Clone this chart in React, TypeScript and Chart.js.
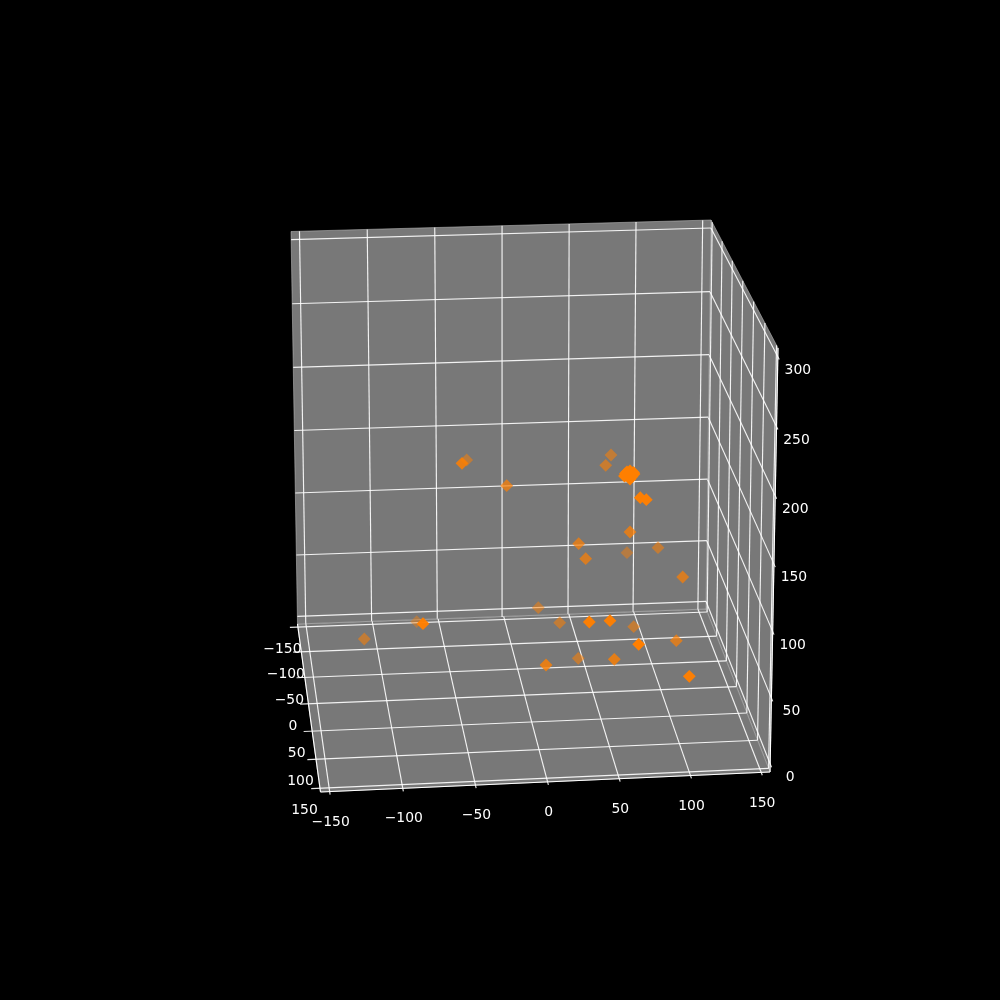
import React, { useEffect, useRef } from 'react';
import { Chart, registerables } from 'chart.js';

Chart.register(...registerables);

// tick values of the three axes
const xTicks = [-150, -100, -50, 0, 50, 100, 150];
const yTicks = [-150, -100, -50, 0, 50, 100, 150];
const zTicks = [0, 50, 100, 150, 200, 250, 300];

// markers as they land on the picture plane, with their depth shade
const markerX = [
  364.3, 416.7, 423, 538.3, 559.7, 589.3, 610, 633.7, 638.7, 676.3, 689.3, 546, 578.3, 614.3,
  611, 605.7, 640.3, 646.3, 630, 578.7, 585.7, 627, 658, 682.7, 462, 466.7, 506.7,
  624.5, 627, 630, 633.5, 626, 630, 632, 628, 625.5, 634,
];
const markerY = [
  639, 621.7, 623.7, 607.7, 622.7, 622, 620.7, 626.7, 644.3, 640.7, 676.3, 665, 658.3, 659.3,
  455, 465.3, 497.7, 499.7, 532, 543.7, 558.7, 552.7, 547.7, 577, 463.3, 460, 485.7,
  476, 472, 471, 472.5, 475, 479, 476.5, 474, 473.5, 474,
];
const markerShade = [
  0.55, 0.4, 0.97, 0.5, 0.55, 0.97, 0.97, 0.55, 1, 0.7, 0.97, 0.8, 0.55, 0.8,
  0.55, 0.6, 0.97, 0.97, 0.75, 0.7, 0.7, 0.45, 0.55, 0.7, 0.85, 0.5, 0.7,
  1, 1, 1, 1, 1, 1, 1, 1, 1, 1,
];

// axis limits, 1/48 of the span wider than the ticks on each side
const XY_LIM = 156.25;
const Z_MIN = -6.25;
const Z_MAX = 306.25;

type Pt = [number, number];

// corners of the panes on the picture plane
const BACK_BOTTOM_LEFT: Pt = [297.5, 624];
const BACK_BOTTOM_RIGHT: Pt = [706, 609];
const BACK_TOP_RIGHT: Pt = [711, 220];
const BACK_TOP_LEFT: Pt = [291, 231.5];
const FRONT_BOTTOM_LEFT: Pt = [320.5, 792];
const FRONT_BOTTOM_RIGHT: Pt = [770, 772];
const FRONT_TOP_RIGHT: Pt = [778, 348];

// maps the unit square on a four cornered pane
const makeFace = (p0: Pt, p1: Pt, p2: Pt, p3: Pt) => {
  const dx1 = p1[0] - p2[0];
  const dx2 = p3[0] - p2[0];
  const sx = p0[0] - p1[0] + p2[0] - p3[0];
  const dy1 = p1[1] - p2[1];
  const dy2 = p3[1] - p2[1];
  const sy = p0[1] - p1[1] + p2[1] - p3[1];
  const den = dx1 * dy2 - dx2 * dy1;
  const g = (sx * dy2 - dx2 * sy) / den;
  const h = (dx1 * sy - sx * dy1) / den;
  return (u: number, v: number) => {
    const w = g * u + h * v + 1;
    return {
      x: ((p1[0] - p0[0] + g * p1[0]) * u + (p3[0] - p0[0] + h * p3[0]) * v + p0[0]) / w,
      y: ((p1[1] - p0[1] + g * p1[1]) * u + (p3[1] - p0[1] + h * p3[1]) * v + p0[1]) / w,
    };
  };
};

const backMap = makeFace(BACK_BOTTOM_LEFT, BACK_BOTTOM_RIGHT, BACK_TOP_RIGHT, BACK_TOP_LEFT);
const floorMap = makeFace(BACK_BOTTOM_LEFT, BACK_BOTTOM_RIGHT, FRONT_BOTTOM_RIGHT, FRONT_BOTTOM_LEFT);
const rightMap = makeFace(BACK_BOTTOM_RIGHT, FRONT_BOTTOM_RIGHT, FRONT_TOP_RIGHT, BACK_TOP_RIGHT);

const uXY = (v: number) => (v + XY_LIM) / (2 * XY_LIM);
const uZ = (v: number) => (v - Z_MIN) / (Z_MAX - Z_MIN);

const onBack = (x: number, z: number) => backMap(uXY(x), uZ(z));
const onFloor = (x: number, y: number) => floorMap(uXY(x), uXY(y));
const onRight = (y: number, z: number) => rightMap(uXY(y), uZ(z));

const GRID = 'rgba(255,255,255,0.9)';

const segment = (a: { x: number; y: number }, b: { x: number; y: number }, color = GRID, width = 1.15) => ({
  data: [a, b],
  showLine: true,
  borderColor: color,
  borderWidth: width,
  pointRadius: 0,
});

const pane = (corners: Pt[]) => ({
  data: [...corners, corners[0]].map(([x, y]) => ({ x, y })),
  showLine: true,
  fill: 'shape',
  backgroundColor: '#787878',
  borderColor: 'rgba(190,190,190,0.55)',
  borderWidth: 1,
  pointRadius: 0,
});

const minus = (v: number) => String(v).replace('-', '\u2212');

const tickLabels = {
  id: 'tickLabels',
  afterDatasetsDraw(chart: any) {
    const { ctx, scales } = chart;
    const put = (text: string, p: { x: number; y: number }, dx: number, dy: number) => {
      ctx.fillText(text, scales.x.getPixelForValue(p.x + dx), scales.y.getPixelForValue(p.y + dy));
    };
    ctx.save();
    ctx.fillStyle = '#ffffff';
    ctx.font = '13.9px "DejaVu Sans"';
    ctx.textAlign = 'center';
    ctx.textBaseline = 'middle';
    xTicks.forEach(v => put(minus(v), onFloor(v, XY_LIM), 1, 30.5));
    yTicks.forEach(v => put(minus(v), onFloor(-XY_LIM, v), -15.5, 22.5));
    zTicks.forEach(v => put(minus(v), onRight(XY_LIM, v), 20, 13.5));
    ctx.restore();
  },
};

const App: React.FC = () => {
  const canvasRef = useRef<HTMLCanvasElement>(null);

  useEffect(() => {
    if (!canvasRef.current) return;
    const gridLines: any[] = [];

    xTicks.forEach(v => {
      gridLines.push(segment(onFloor(v, -XY_LIM), onFloor(v, XY_LIM + 5)));
      gridLines.push(segment(onBack(v, Z_MIN), onBack(v, Z_MAX)));
    });
    yTicks.forEach(v => {
      gridLines.push(segment(onFloor(-XY_LIM - 6, v), onFloor(XY_LIM, v)));
      gridLines.push(segment(onRight(v, Z_MIN), onRight(v, Z_MAX)));
    });
    zTicks.forEach(v => {
      gridLines.push(segment(onBack(-XY_LIM, v), onBack(XY_LIM, v)));
      gridLines.push(segment(onRight(-XY_LIM, v), onRight(XY_LIM + 6, v)));
    });

    const axisLines = [
      segment(onFloor(-XY_LIM, XY_LIM), onFloor(XY_LIM, XY_LIM), '#ffffff'),
      segment(onFloor(-XY_LIM, -XY_LIM), onFloor(-XY_LIM, XY_LIM), '#ffffff'),
      segment(onRight(XY_LIM, Z_MIN), onRight(XY_LIM, Z_MAX), '#ffffff'),
    ];

    const chart = new Chart(canvasRef.current, {
      type: 'scatter',
      data: {
        // the first dataset ends up on top
        datasets: [
          {
            data: markerX.map((x, i) => ({ x, y: markerY[i] })),
            pointStyle: 'rectRot',
            pointRadius: 6.4,
            pointBorderWidth: 0,
            pointBackgroundColor: markerShade.map(a => `rgba(255,127,0,${a})`),
          },
          ...axisLines,
          ...gridLines,
          pane([BACK_BOTTOM_LEFT, BACK_BOTTOM_RIGHT, BACK_TOP_RIGHT, BACK_TOP_LEFT]),
          pane([BACK_BOTTOM_LEFT, BACK_BOTTOM_RIGHT, FRONT_BOTTOM_RIGHT, FRONT_BOTTOM_LEFT]),
          pane([BACK_BOTTOM_RIGHT, FRONT_BOTTOM_RIGHT, FRONT_TOP_RIGHT, BACK_TOP_RIGHT]),
        ] as any,
      },
      options: {
        responsive: false,
        animation: false,
        devicePixelRatio: 1,
        layout: { autoPadding: false },
        plugins: { legend: { display: false }, tooltip: { enabled: false } },
        scales: {
          x: { type: 'linear', min: 0, max: 1000, display: false },
          y: { type: 'linear', min: 0, max: 1000, reverse: true, display: false },
        },
      },
      plugins: [tickLabels],
    });

    return () => chart.destroy();
  }, []);

  return (
    <div style={{ position: 'absolute', left: 0, top: 0, width: 1000, height: 1000, background: '#000' }}>
      <canvas ref={canvasRef} width={1000} height={1000} style={{ display: 'block' }} />
    </div>
  );
};

export default App;
